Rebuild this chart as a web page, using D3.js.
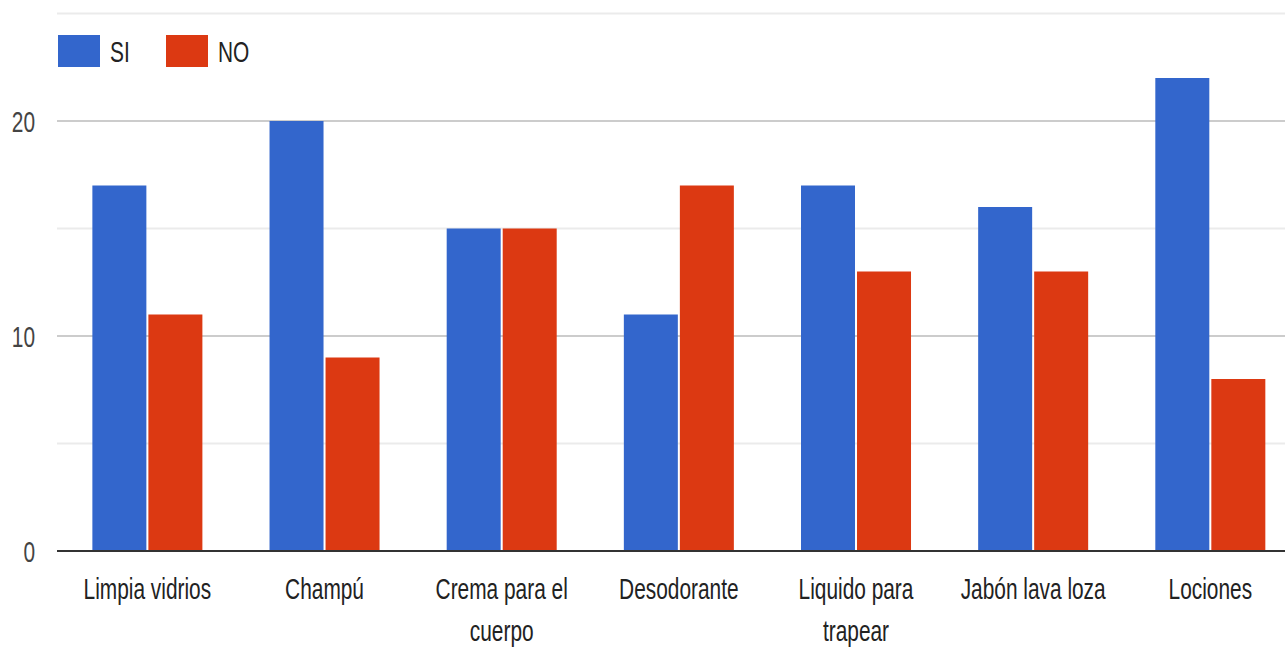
<!DOCTYPE html>
<html>
<head>
<meta charset="utf-8">
<script src="https://cdn.jsdelivr.net/npm/d3@7"></script>
<style>
  html, body { margin: 0; padding: 0; background: #fff; }
  svg { display: block; }
  text { font-family: Arial, "Liberation Sans", sans-serif; }
</style>
</head>
<body>
<script>
// Products surveyed and the count of answers per product
const categories = ["Limpia vidrios", "Champú", "Crema para el cuerpo", "Desodorante",
                    "Liquido para trapear", "Jabón lava loza", "Lociones"];
const seriesNames = ["SI", "NO"];
const siValues = [17, 20, 15, 11, 17, 16, 22];
const noValues = [11, 9, 15, 17, 13, 13, 8];
const majorTicks = [0, 10, 20];
const minorTicks = [5, 15, 25];
const colors = ["#3366cc", "#dc3912"];

const W = 1285, H = 650;
const textScaleX = 0.72;   // narrow rendering of all chart text
const fontSize = 29;

const svg = d3.select("body").append("svg")
  .attr("width", W).attr("height", H);

const y = d3.scaleLinear().domain([0, 25]).range([551, 13.5]);
const x0 = d3.scaleBand().domain(categories)
  .range([58.8, 1298.9]).paddingInner(0.379).paddingOuter(0.1895);
const x1 = d3.scaleBand().domain(seriesNames)
  .range([0, x0.bandwidth()]).paddingInner(0.036);

// gridlines
const gridLeft = 57, gridRight = W;
svg.append("g").selectAll("line.minor").data(minorTicks).join("line")
  .attr("x1", gridLeft).attr("x2", gridRight)
  .attr("y1", d => y(d)).attr("y2", d => y(d))
  .attr("stroke", "#ebebeb").attr("stroke-width", 2);
svg.append("g").selectAll("line.major").data(majorTicks.filter(d => d !== 0)).join("line")
  .attr("x1", gridLeft).attr("x2", gridRight)
  .attr("y1", d => y(d)).attr("y2", d => y(d))
  .attr("stroke", "#cccccc").attr("stroke-width", 2);

// y tick labels
svg.append("g").selectAll("text").data(majorTicks).join("text")
  .attr("transform", d => `translate(35,${y(d) + 10.5}) scale(${textScaleX},1)`)
  .attr("text-anchor", "end")
  .attr("font-size", fontSize)
  .attr("fill", "#444")
  .text(d => d);

// bars
const rows = categories.map((c, i) => ({ cat: c, vals: [siValues[i], noValues[i]] }));
const groups = svg.append("g").selectAll("g").data(rows).join("g")
  .attr("transform", d => `translate(${x0(d.cat)},0)`);
groups.selectAll("rect").data(d => d.vals.map((v, j) => ({ key: seriesNames[j], v, j })))
  .join("rect")
  .attr("x", d => x1(d.key))
  .attr("width", x1.bandwidth())
  .attr("y", d => y(d.v))
  .attr("height", d => y(0) - y(d.v))
  .attr("fill", d => colors[d.j]);

// baseline
svg.append("line")
  .attr("x1", gridLeft).attr("x2", gridRight)
  .attr("y1", y(0)).attr("y2", y(0))
  .attr("stroke", "#333").attr("stroke-width", 2);

// category labels, wrapped to fit the band
const maxLabelWidth = 165;
const labels = svg.append("g");
categories.forEach(cat => {
  const cx = x0(cat) + x0.bandwidth() / 2;
  const words = cat.split(" ");
  const lines = [];
  let current = [];
  const probe = svg.append("text").attr("font-size", fontSize);
  words.forEach(w => {
    const trial = current.concat([w]).join(" ");
    probe.text(trial);
    if (current.length && probe.node().getComputedTextLength() * textScaleX > maxLabelWidth) {
      lines.push(current.join(" "));
      current = [w];
    } else {
      current.push(w);
    }
  });
  lines.push(current.join(" "));
  probe.remove();
  lines.forEach((ln, k) => {
    labels.append("text")
      .attr("transform", `translate(${cx},${599 + k * 42}) scale(${textScaleX},1)`)
      .attr("text-anchor", "middle")
      .attr("font-size", fontSize)
      .attr("fill", "#222")
      .text(ln);
  });
});

// legend
const legendItems = [{ name: "SI", x: 58 }, { name: "NO", x: 166 }];
const legend = svg.append("g");
legendItems.forEach((it, i) => {
  legend.append("rect")
    .attr("x", it.x).attr("y", 35).attr("width", 42).attr("height", 32)
    .attr("fill", colors[i]);
  legend.append("text")
    .attr("transform", `translate(${it.x + 52},${61.5}) scale(${textScaleX},1)`)
    .attr("font-size", fontSize)
    .attr("fill", "#222")
    .text(it.name);
});
</script>
</body>
</html>
